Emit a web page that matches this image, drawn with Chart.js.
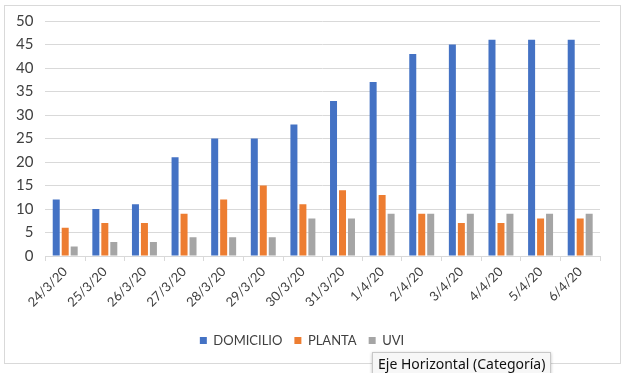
<!DOCTYPE html>
<html>
<head>
<meta charset="utf-8">
<script src="https://cdn.jsdelivr.net/npm/chart.js@4"></script>
<style>
  html, body { margin: 0; padding: 0; background: #fff; }
  #wrap { position: relative; width: 625px; height: 373px; }
  #frame { position: absolute; left: 4px; top: 5px; width: 615px; height: 357px; border: 1px solid #d9d9d9; pointer-events: none; }
  #tip { position: absolute; left: 372px; top: 352px; padding: 2px 5px 4px; background: #f7f7f7; border: 1px solid #c8c8c8; box-shadow: 0 1px 3px rgba(0,0,0,0.25); font: 14px "Noto Sans", sans-serif; line-height: 18px; color: #111; white-space: nowrap; }
</style>
</head>
<body>
<div id="wrap">
  <canvas id="casesChart" width="625" height="373"></canvas>
  <div id="frame"></div>
  <div id="tip">Eje Horizontal (Categoría)</div>
</div>
<script>
const fechas = ['24/3/20', '25/3/20', '26/3/20', '27/3/20', '28/3/20', '29/3/20', '30/3/20',
                '31/3/20', '1/4/20', '2/4/20', '3/4/20', '4/4/20', '5/4/20', '6/4/20'];
const domicilio = [12, 10, 11, 21, 25, 25, 28, 33, 37, 43, 45, 46, 46, 46];
const planta = [6, 7, 7, 9, 12, 15, 11, 14, 13, 9, 7, 7, 8, 8];
const uvi = [2, 3, 3, 4, 4, 4, 8, 8, 9, 9, 9, 9, 9, 9];

const ctx = document.getElementById('casesChart').getContext('2d');
const casesChart = new Chart(ctx, {
    type: 'bar',
    data: {
        labels: fechas,
        datasets: [
            { label: 'DOMICILIO', data: domicilio, backgroundColor: '#4472C4' },
            { label: 'PLANTA', data: planta, backgroundColor: '#ED7D31' },
            { label: 'UVI', data: uvi, backgroundColor: '#A5A5A5' }
        ]
    },
    options: {
        responsive: false,
        animation: false,
        categoryPercentage: 0.68,
        barPercentage: 0.78,
        layout: {
            padding: { left: 4, right: 25, top: 20, bottom: 16 }
        },
        plugins: {
            tooltip: { enabled: false },
            legend: {
                position: 'bottom',
                labels: {
                    boxWidth: 7,
                    boxHeight: 7,
                    padding: 12,
                    color: '#404040',
                    font: { family: 'Lato', size: 13 }
                }
            }
        },
        scales: {
            y: {
                min: 0,
                max: 50,
                ticks: {
                    stepSize: 5,
                    padding: 12,
                    color: '#404040',
                    font: { family: 'Lato', size: 15 }
                },
                grid: { color: '#d9d9d9', drawTicks: false },
                border: { display: false }
            },
            x: {
                ticks: {
                    minRotation: 45,
                    maxRotation: 45,
                    color: '#404040',
                    font: { family: 'Lato', size: 13 }
                },
                grid: { offset: true, drawOnChartArea: false, color: '#d9d9d9', tickLength: 5 },
                border: { color: '#d9d9d9' },
                afterFit: function(scale) {
                    scale.height += 9;
                }
            }
        }
    }
});
</script>
</body>
</html>
